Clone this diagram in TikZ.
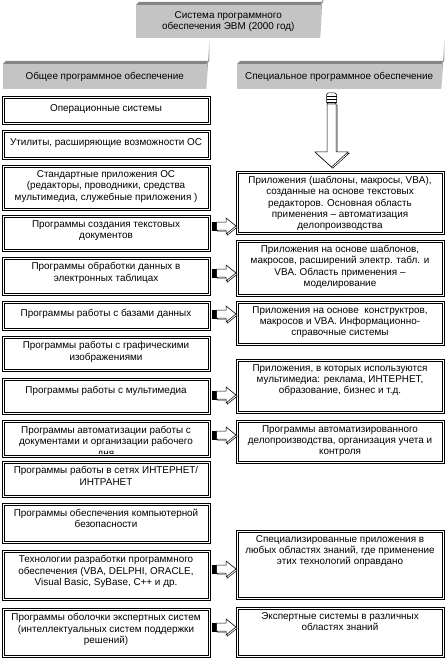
\documentclass[tikz,border=0pt]{standalone}
\usepackage{fontspec}
\setmainfont{Liberation Sans}
\definecolor{facegray}{HTML}{C4C4C4}
\definecolor{topgray}{HTML}{858585}
\definecolor{sidegray}{HTML}{A8A8A8}
\tikzset{
  txt/.style={font=\fontsize{9.9}{11.3}\selectfont, align=center, inner sep=0pt, anchor=north,
              execute at begin node=\rule{0pt}{9.5pt}},
  dbox/.style={draw, double, double distance=1.4pt, line width=0.55pt, inner sep=0pt, anchor=north west},
  facebox/.style={fill=facegray, inner sep=0pt, anchor=north west,
                  font=\fontsize{9.9}{11.5}\selectfont, align=center},
  topbevel/.style={fill=topgray},
  sidebevel/.style={fill=sidegray},
  blockarrow/.style={draw, fill=white, line width=0.5pt, line join=miter},
  rarrow/.pic={
    \draw[blockarrow] (5.2,-2.8) -- (15.2,-2.8) -- (15.2,-6.8) -- (25.2,1.2) -- (15.2,9.2) -- (15.2,5.2) -- (5.2,5.2) -- cycle;
    \fill (0,-4.5) rectangle (5.5,4.5);
    \draw[blockarrow] (4.5,-4) -- (14,-4) -- (14,-8) -- (24,0) -- (14,8) -- (14,4) -- (4.5,4) -- cycle;
  }
}
\newcommand\bevbox[6]{% name, x1, y1, x2, y2, text
  \node[facebox, minimum width={(#4-#2-3)*1pt}, minimum height={(#5-#3-3)*1pt}] (#1) at (#2,#3+3) {#6};
  \fill[topbevel] (#1.north west) -- ++(3,-3) -- ++({#4-#2-3},0) -- (#1.north east) -- cycle;
  \fill[sidebevel] (#1.north east) -- ++(3,-3) -- ++(0,{-(#5-#3-6)}) -- (#1.south east) -- cycle;
}
\newcommand\leftbx[4]{% name, top, bottom, text
  \node[dbox, minimum width=206pt, minimum height={(#3-#2)*1pt}] (#1) at (3,#2) {};
  \node[txt] (#1t) at (106,#2+4.5) {#4};
}
\newcommand\rightbx[4]{% name, top, bottom, text
  \node[dbox, minimum width=206pt, minimum height={(#3-#2)*1pt}] (#1) at (237,#2) {};
  \node[txt] (#1t) at (340,#2+4) {#4};
}
\begin{document}
\begin{tikzpicture}[x=1pt, y=-1pt]
\useasboundingbox (0,0) rectangle (446,660);

% title and headers
\bevbox{title}{136}{2}{323}{38}{Система программного\\обеспечения ЭВМ (2000 год)}
\bevbox{lhead}{3}{61}{209}{89}{Общее программное обеспечение}
\bevbox{rhead}{237}{61}{444}{89}{Специальное программное обеспечение}

% left column
\leftbx{l1}{97}{123}{Операционные системы}
\leftbx{l2}{131}{158}{Утилиты, расширяющие возможности ОС}
\leftbx{l3}{166}{209}{Стандартные приложения ОС\\(редакторы, проводники, средства\\мультимедиа, служебные приложения )}
\leftbx{l4}{216}{250}{Программы создания текстовых\\документов}
\leftbx{l5}{258}{294}{Программы обработки данных в\\электронных таблицах}
\leftbx{l6}{302}{329}{Программы работы с базами данных}
\leftbx{l7}{337}{370}{Программы работы с графическими\\изображениями}
\leftbx{l8}{379}{413}{Программы работы с мультимедиа}
\node[dbox, minimum width=206pt, minimum height=35pt] (l9) at (3,421) {};
\begin{scope}
  \clip (5,423) rectangle (207,453);
  \node[txt] (l9t) at (106,426) {Программы автоматизации работы с\\документами и организации рабочего\\дня};
\end{scope}
\leftbx{l10}{462}{496}{Программы работы в сетях ИНТЕРНЕТ/\\ИНТРАНЕТ}
\leftbx{l11}{504}{542}{Программы обеспечения компьютерной\\безопасности}
\leftbx{l12}{551}{599}{Технологии разработки программного\\обеспечения (VBA, DELPHI, ORACLE,\\Visual Basic, SyBase, C++ и др.}
\leftbx{l13}{609}{656}{Программы оболочки экспертных систем\\(интеллектуальных систем поддержки\\решений)}

% right column
\rightbx{r1}{172}{233}{Приложения (шаблоны, макросы, VBA),\\созданные на основе текстовых\\редакторов. Основная область\\применения – автоматизация\\делопроизводства}
\rightbx{r2}{241}{295}{Приложения на основе шаблонов,\\макросов, расширений электр. табл. и\\VBA. Область применения –\\моделирование}
\rightbx{r3}{302}{344}{Приложения на основе\ \ конструктров,\\макросов и VBA. Информационно-\\справочные системы}
\rightbx{r4}{360}{412}{Приложения, в которых используются\\мультимедиа: реклама, ИНТЕРНЕТ,\\образование, бизнес и т.д.}
\rightbx{r5}{421}{462}{Программы автоматизированного\\делопроизводства, организация учета и\\контроля}
\rightbx{r6}{531}{598}{Специализированные приложения в\\любых областях знаний, где применение\\этих технологий оправдано}
\rightbx{r7}{608}{656}{Экспертные системы в различных\\областях знаний}

% small block arrows
\pic at (212,226) {rarrow};
\pic at (212,273) {rarrow};
\pic at (212,314) {rarrow};
\pic at (212,395) {rarrow};
\pic at (212,435) {rarrow};
\pic at (212,569) {rarrow};
\pic at (212,627) {rarrow};

% large down arrow
\draw[blockarrow] (328.2,105.2) -- (328.2,153.2) -- (316.2,153.2) -- (332.7,168.2) -- (349.2,153.2) -- (337.2,153.2) -- (337.2,105.2) -- cycle;
\draw[blockarrow] (327,104) -- (327,152) -- (315,152) -- (331.5,167) -- (348,152) -- (336,152) -- (336,104) -- cycle;
\draw[blockarrow, rounded corners=1.5pt] (326.5,93) rectangle (336.5,104);
\draw (326.5,96.5) -- (336.5,96.5) (326.5,99.5) -- (336.5,99.5) (326.5,102) -- (336.5,102);
\end{tikzpicture}
\end{document}
